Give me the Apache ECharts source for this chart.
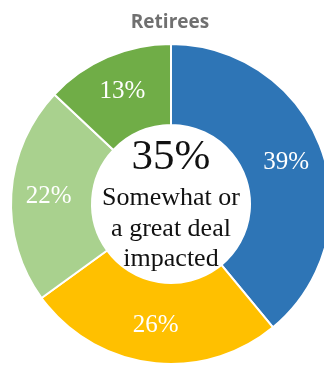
<!DOCTYPE html>
<html><head><meta charset="utf-8">
<script src="https://cdn.jsdelivr.net/npm/echarts@6/dist/echarts.min.js"></script>
<style>html,body{margin:0;padding:0;background:#fff}#c{width:324px;height:373px}</style>
</head><body><div id="c"></div>
<script>
var categories = ['A great deal', 'Somewhat', 'A little', 'Not at all'];
var values = [39, 26, 22, 13];
var colors = ['#2E75B6', '#FFC000', '#A9D18E', '#70AD47'];
var titleText = 'Retirees';
var centerBig = '35%';
var centerLines = ['Somewhat or', 'a great deal', 'impacted'];

var serif = 'serif';
var chart = echarts.init(document.getElementById('c'));
var cx = 171, cy = 204;
function ctitle(t, top, size) {
  return { text: t, left: cx - 5, top: top, textAlign: 'center',
    textStyle: { fontFamily: serif, fontWeight: 'normal', fontSize: size, color: '#111' } };
}
chart.setOption({
  animation: false,
  title: [
    { text: titleText, left: 165, top: 8, textAlign: 'center',
      textStyle: { fontFamily: 'Open Sans', fontWeight: 'bold', fontSize: 19, color: '#707070' } },
    ctitle(centerBig, 131, 43),
    ctitle(centerLines[0], 180, 26),
    ctitle(centerLines[1], 211, 26),
    ctitle(centerLines[2], 241, 26)
  ],
  series: [{
    type: 'pie',
    center: [cx, cy],
    radius: [79, 160],
    startAngle: 90,
    clockwise: true,
    data: categories.map(function (c, i) { return { name: c, value: values[i], itemStyle: { color: colors[i] } }; }),
    itemStyle: { borderColor: '#fff', borderWidth: 2 },
    label: {
      position: 'inside', formatter: '{c}%',
      fontFamily: serif, fontSize: 25, color: '#fff'
    },
    labelLine: { show: false },
    emphasis: { disabled: true }
  }]
});
</script></body></html>
